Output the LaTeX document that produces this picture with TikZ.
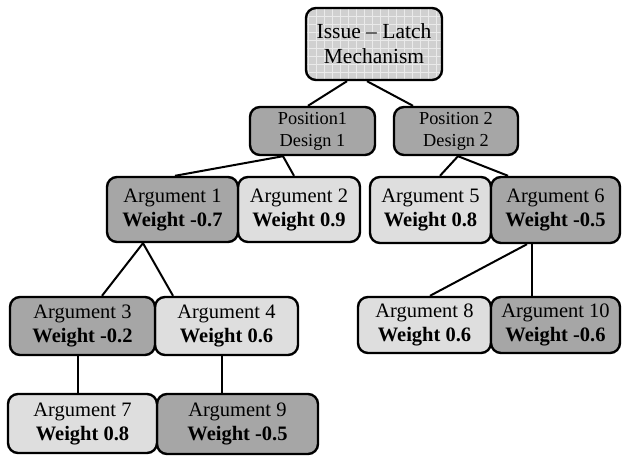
\documentclass[tikz,border=0pt]{standalone}
\usepackage{fontspec}
\setmainfont{Liberation Serif}
\usetikzlibrary{backgrounds}
\definecolor{darkarg}{HTML}{A6A6A6}
\definecolor{lightarg}{HTML}{DEDEDE}
\definecolor{issuefill}{HTML}{D0D0D0}
\begin{document}
\begin{tikzpicture}[x=1pt,y=-1pt,
  box/.style={draw=black, line width=2.4pt, rounded corners=10pt, align=center,
    inner sep=0pt, font=\fontsize{20.5}{24}\selectfont},
  dark/.style={box, fill=darkarg},
  light/.style={box, fill=lightarg},
  posbox/.style={dark, font=\fontsize{18.3}{22}\selectfont},
  link/.style={line width=2pt, black},
  textured/.style={box, fill=issuefill, font=\fontsize{21.5}{25}\selectfont,
    path picture={\draw[white!55!issuefill, line width=0.6pt, step=8pt]
      (path picture bounding box.south west) grid (path picture bounding box.north east);}}]
\useasboundingbox (0,0) rectangle (622,462);

% issue and positions
\node[textured, minimum width=136pt, minimum height=72pt] (issue) at (374,44) {Issue -- Latch\\Mechanism};
\node[posbox, minimum width=125pt, minimum height=48pt] (pos1) at (312.5,131) {Position1\\Design 1};
\node[posbox, minimum width=124pt, minimum height=48pt] (pos2) at (456,131) {Position 2\\Design 2};

% first row of arguments
\node[light, minimum width=122pt, minimum height=65pt] (arg2) at (299,209.5) {Argument 2\\\textbf{Weight 0.9}};
\node[dark, minimum width=131pt, minimum height=65pt] (arg1) at (172.5,209.5) {Argument 1\\\textbf{Weight -0.7}};
\node[light, minimum width=121pt, minimum height=66pt] (arg5) at (430.5,210) {Argument 5\\\textbf{Weight 0.8}};
\node[dark, minimum width=129pt, minimum height=66pt] (arg6) at (555.5,210) {Argument 6\\\textbf{Weight -0.5}};

% second row
\node[light, minimum width=143pt, minimum height=58pt] (arg4) at (226.5,326) {Argument 4\\\textbf{Weight 0.6}};
\node[dark, minimum width=145pt, minimum height=58pt] (arg3) at (82.5,326) {Argument 3\\\textbf{Weight -0.2}};
\node[light, minimum width=133pt, minimum height=56pt] (arg8) at (424.5,325) {Argument 8\\\textbf{Weight 0.6}};
\node[dark, minimum width=129pt, minimum height=56pt] (arg10) at (555.5,325) {Argument 10\\\textbf{Weight -0.6}};

% third row
\node[dark, minimum width=161pt, minimum height=60pt] (arg9) at (237.5,424) {Argument 9\\\textbf{Weight -0.5}};
\node[light, minimum width=149pt, minimum height=59pt] (arg7) at (82.5,423.5) {Argument 7\\\textbf{Weight 0.8}};

% connectors
\begin{scope}[on background layer]
\draw[link] ([xshift=-27pt]issue.south) -- ([xshift=-4.5pt]pos1.north);
\draw[link] ([xshift=-7pt]issue.south) -- ([xshift=-43pt]pos2.north);
\draw[link] ([xshift=-29.5pt]pos1.south) -- ([xshift=2.5pt]arg1.north);
\draw[link] ([xshift=-29.5pt]pos1.south) -- ([xshift=-5pt]arg2.north);
\draw[link] ([xshift=2pt]pos2.south) -- ([xshift=9.5pt]arg5.north);
\draw[link] ([xshift=2pt]pos2.south) -- ([xshift=-47.5pt]arg6.north);
\draw[link] ([xshift=-29.5pt]arg1.south) -- ([xshift=19.5pt]arg3.north);
\draw[link] ([xshift=-29.5pt]arg1.south) -- ([xshift=-53.5pt]arg4.north);
\draw[link] ([xshift=-28.5pt]arg6.south) -- ([xshift=5.5pt]arg8.north);
\draw[link] ([xshift=-23.5pt]arg6.south) -- ([xshift=-23.5pt]arg10.north);
\draw[link] ([xshift=-4.5pt]arg3.south) -- ([xshift=-4.5pt]arg7.north);
\draw[link] ([xshift=-4.5pt]arg4.south) -- ([xshift=-15.5pt]arg9.north);
\end{scope}
\end{tikzpicture}
\end{document}
